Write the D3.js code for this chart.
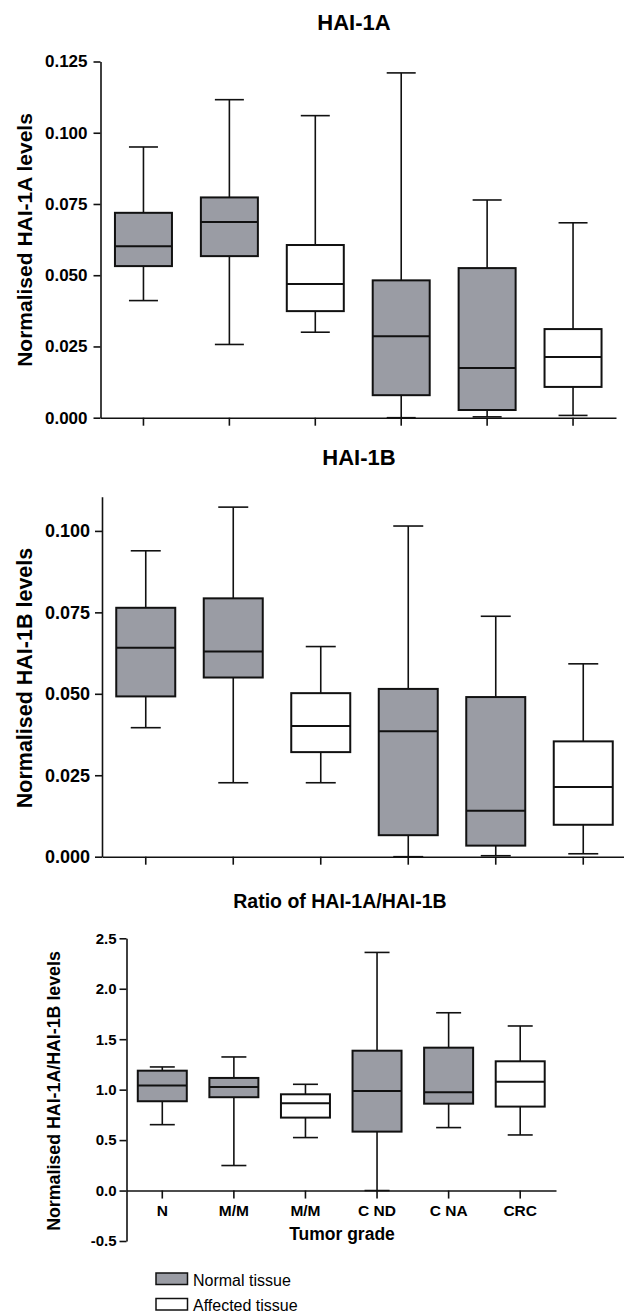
<!DOCTYPE html>
<html>
<head>
<meta charset="utf-8">
<script src="https://cdn.jsdelivr.net/npm/d3@7"></script>
<style>
  body { margin: 0; background: #fff; }
</style>
</head>
<body>
<div id="chart"></div>
<script>
// groups along the x axis (only the ratio panel shows their names)
const categories = ["N", "M/M", "M/M", "C ND", "C NA", "CRC"];
const tissue = ["normal", "normal", "affected", "normal", "normal", "affected"];

// each box: [min, q1, median, q3, max]
const hai1A = [
  [0.0411, 0.0532, 0.0602, 0.0719, 0.0950],
  [0.0257, 0.0567, 0.0687, 0.0773, 0.1116],
  [0.0300, 0.0374, 0.0469, 0.0606, 0.1060],
  [0.0000, 0.0079, 0.0286, 0.0482, 0.1210],
  [0.0003, 0.0027, 0.0174, 0.0525, 0.0764],
  [0.0008, 0.0108, 0.0213, 0.0311, 0.0684]
];
const hai1B = [
  [0.0396, 0.0492, 0.0641, 0.0764, 0.0939],
  [0.0227, 0.0550, 0.0630, 0.0793, 0.1073],
  [0.0227, 0.0321, 0.0401, 0.0502, 0.0645],
  [0.0000, 0.0066, 0.0385, 0.0515, 0.1015],
  [0.0003, 0.0034, 0.0141, 0.0490, 0.0738],
  [0.0009, 0.0098, 0.0214, 0.0354, 0.0592]
];
const ratio = [
  [0.653, 0.885, 1.040, 1.188, 1.225],
  [0.248, 0.925, 1.027, 1.116, 1.324],
  [0.525, 0.723, 0.865, 0.954, 1.053],
  [0.000, 0.584, 0.987, 1.386, 2.360],
  [0.624, 0.861, 0.974, 1.416, 1.762],
  [0.551, 0.832, 1.079, 1.281, 1.631]
];

const ticksA = [0, 0.025, 0.05, 0.075, 0.1, 0.125];
const ticksB = [0, 0.025, 0.05, 0.075, 0.1];
const ticksRatio = [-0.5, 0, 0.5, 1, 1.5, 2, 2.5];

const legendLabels = ["Normal tissue", "Affected tissue"];

const width = 624, height = 1314;
const font = "'Liberation Sans', Arial, Helvetica, sans-serif";
const fills = { normal: "#9a9ca4", affected: "#ffffff" };
// plain hyphen for negative ticks, as in the original figure
const locale = d3.formatLocale({ decimal: ".", thousands: ",", grouping: [3], currency: ["", ""], minus: "-" });

const svg = d3.select("#chart")
  .append("svg")
  .attr("width", width)
  .attr("height", height)
  .style("font-family", font);

function drawPanel(cfg) {
  const x = d3.scaleBand()
    .domain(d3.range(categories.length))
    .range(cfg.xRange);
  const y = d3.scaleLinear()
    .domain(cfg.domain)
    .range(cfg.yRange);

  const g = svg.append("g");

  // title
  g.append("text")
    .attr("x", cfg.title[1])
    .attr("y", cfg.title[2])
    .attr("text-anchor", "middle")
    .attr("font-weight", "bold")
    .attr("font-size", cfg.titleSize)
    .text(cfg.title[0]);

  // y label
  g.append("text")
    .attr("transform", `translate(${cfg.ylab[1]},${cfg.ylab[2]}) rotate(-90)`)
    .attr("text-anchor", "middle")
    .attr("font-weight", "bold")
    .attr("font-size", cfg.ylabSize)
    .text(cfg.ylab[0]);

  // y axis
  const ya = g.append("g")
    .attr("transform", `translate(${cfg.xRange[0]},0)`)
    .call(d3.axisLeft(y)
      .tickValues(cfg.ticks)
      .tickFormat(locale.format(cfg.fmt))
      .tickSize(7)
      .tickPadding(cfg.tickPad)
      .tickSizeOuter(0));

  // x axis along zero
  const xa = g.append("g")
    .attr("transform", `translate(0,${y(0)})`)
    .call(d3.axisBottom(x)
      .tickSize(8)
      .tickPadding(6)
      .tickSizeOuter(0)
      .tickFormat(i => cfg.xLabels ? categories[i] : ""));

  [ya, xa].forEach(a => {
    a.attr("font-family", font)
      .attr("font-weight", "bold")
      .attr("font-size", cfg.tickSize);
    a.selectAll("path, line").attr("stroke", "#111").attr("stroke-width", 1.6);
    a.selectAll("text").attr("fill", "#000");
  });
  if (cfg.xLabels) xa.attr("font-size", cfg.xTickSize);

  // boxes
  const boxes = g.append("g")
    .selectAll("g")
    .data(cfg.data)
    .join("g")
    .attr("transform", (d, i) => `translate(${x(i) + x.bandwidth() / 2},0)`);

  boxes.append("line")
    .attr("y1", d => y(d[4]))
    .attr("y2", d => y(d[0]))
    .attr("stroke", "#111")
    .attr("stroke-width", 1.6);

  boxes.selectAll(".cap")
    .data(d => [d[0], d[4]])
    .join("line")
    .attr("class", "cap")
    .attr("x1", -cfg.capW / 2)
    .attr("x2", cfg.capW / 2)
    .attr("y1", v => y(v))
    .attr("y2", v => y(v))
    .attr("stroke", "#111")
    .attr("stroke-width", 1.6);

  boxes.append("rect")
    .attr("x", -cfg.boxW / 2)
    .attr("width", cfg.boxW)
    .attr("y", d => y(d[3]))
    .attr("height", d => y(d[1]) - y(d[3]))
    .attr("fill", (d, i) => fills[tissue[i]])
    .attr("stroke", "#111")
    .attr("stroke-width", 2);

  boxes.append("line")
    .attr("x1", -cfg.boxW / 2)
    .attr("x2", cfg.boxW / 2)
    .attr("y1", d => y(d[2]))
    .attr("y2", d => y(d[2]))
    .attr("stroke", "#111")
    .attr("stroke-width", 2);

  if (cfg.xTitle) {
    g.append("text")
      .attr("x", cfg.xTitle[1])
      .attr("y", cfg.xTitle[2])
      .attr("text-anchor", "middle")
      .attr("font-weight", "bold")
      .attr("font-size", cfg.xTitleSize)
      .text(cfg.xTitle[0]);
  }
}

drawPanel({
  data: hai1A, domain: [0, 0.125], ticks: ticksA, fmt: ".3f",
  xRange: [100.5, 616], yRange: [417.7, 61.5],
  boxW: 57, capW: 29, tickSize: 17, tickPad: 6,
  title: ["HAI-1A", 354, 30], titleSize: 22,
  ylab: ["Normalised HAI-1A levels", 32, 240], ylabSize: 21
});

drawPanel({
  data: hai1B, domain: [0, 0.1105], ticks: ticksB, fmt: ".3f",
  xRange: [102, 627], yRange: [856.7, 496.7],
  boxW: 59, capW: 30, tickSize: 18, tickPad: 5,
  title: ["HAI-1B", 359, 465], titleSize: 22,
  ylab: ["Normalised HAI-1B levels", 32, 678], ylabSize: 21.5
});

drawPanel({
  data: ratio, domain: [-0.5, 2.5], ticks: ticksRatio, fmt: ".1f",
  xRange: [126.5, 556], yRange: [1241, 938.3],
  boxW: 49, capW: 25, tickSize: 15, tickPad: 3,
  xLabels: true, xTickSize: 15.5,
  title: ["Ratio of HAI-1A/HAI-1B", 340, 908], titleSize: 19.5,
  ylab: ["Normalised HAI-1A/HAI-1B levels", 60, 1091], ylabSize: 17.8,
  xTitle: ["Tumor grade", 342, 1240], xTitleSize: 17.5
});

// legend
const legend = svg.append("g")
  .selectAll("g")
  .data(legendLabels)
  .join("g")
  .attr("transform", (d, i) => `translate(156,${1273 + i * 25.5})`);

legend.append("rect")
  .attr("width", 31.5)
  .attr("height", 11.5)
  .attr("fill", (d, i) => i ? fills.affected : fills.normal)
  .attr("stroke", "#111")
  .attr("stroke-width", 1.5);

legend.append("text")
  .attr("x", 37)
  .attr("y", 12.5)
  .attr("font-size", 16)
  .text(d => d);
</script>
</body>
</html>
